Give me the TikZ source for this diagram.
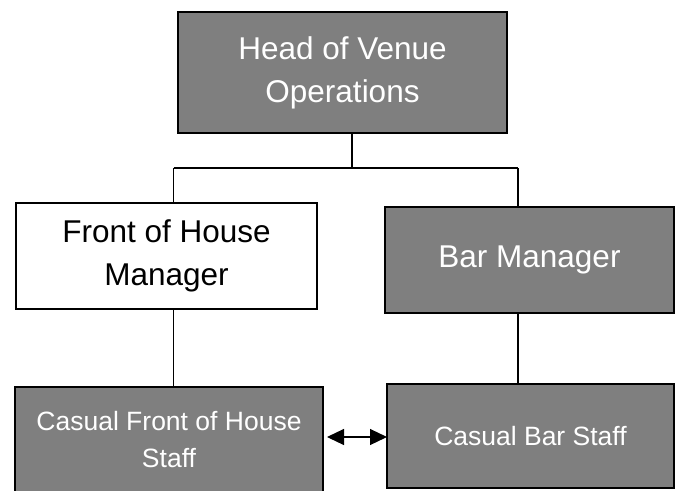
\documentclass[tikz,border=0pt]{standalone}
\usepackage{fontspec}
\setmainfont{Liberation Sans}
\usetikzlibrary{arrows.meta}
\definecolor{boxgray}{RGB}{127,127,127}
\tikzset{
  orgbox/.style={draw=black, line width=2.4pt, inner sep=0pt, outer sep=0pt, align=center},
  graybox/.style={orgbox, fill=boxgray, text=white},
  whitebox/.style={orgbox, fill=white, text=black},
  conn/.style={draw=black, line width=1.2pt},
  bigtext/.style={font=\fontsize{31.5}{43}\selectfont},
  smalltext/.style={font=\fontsize{26.5}{37}\selectfont},
  bothtips/.style={arrows={Triangle[length=17pt,width=16pt]-Triangle[length=17pt,width=16pt]}},
}
\begin{document}
\begin{tikzpicture}[x=1pt,y=-1pt]
\useasboundingbox (0,0) rectangle (680,490);
\fill[white] (0,0) rectangle (680,490);
\node[graybox, bigtext, minimum width=329pt, minimum height=121pt] (top) at (342.5,72.5) {Head of Venue\\Operations};
\node[whitebox, bigtext, minimum width=301pt, minimum height=106pt] (foh) at (166.5,256) {Front of House\\Manager};
\node[graybox, bigtext, minimum width=289pt, minimum height=106pt] (bar) at (529.5,260) {Bar Manager};
\node[graybox, smalltext, minimum width=308pt, minimum height=106pt] (cfoh) at (169,440) {Casual Front of House\\Staff};
\node[graybox, smalltext, minimum width=287pt, minimum height=104pt] (cbar) at (530.5,436) {Casual Bar Staff};
\coordinate (junc) at (352,168);
\coordinate (hl) at (173.5,168);
\coordinate (hr) at (518,168);
\draw[conn] (top.south -| junc) -- (junc);
\draw[conn] (hl) -- (hr);
\draw[conn] (hl) -- (hl |- foh.north);
\draw[conn] (hr) -- (hr |- bar.north);
\draw[conn] (foh.south -| hl) -- (cfoh.north -| hl);
\draw[conn] (bar.south -| hr) -- (cbar.north -| hr);
\coordinate (al) at (327,437);
\draw[conn, bothtips] (al) -- (cbar.west |- al);
\end{tikzpicture}
\end{document}
